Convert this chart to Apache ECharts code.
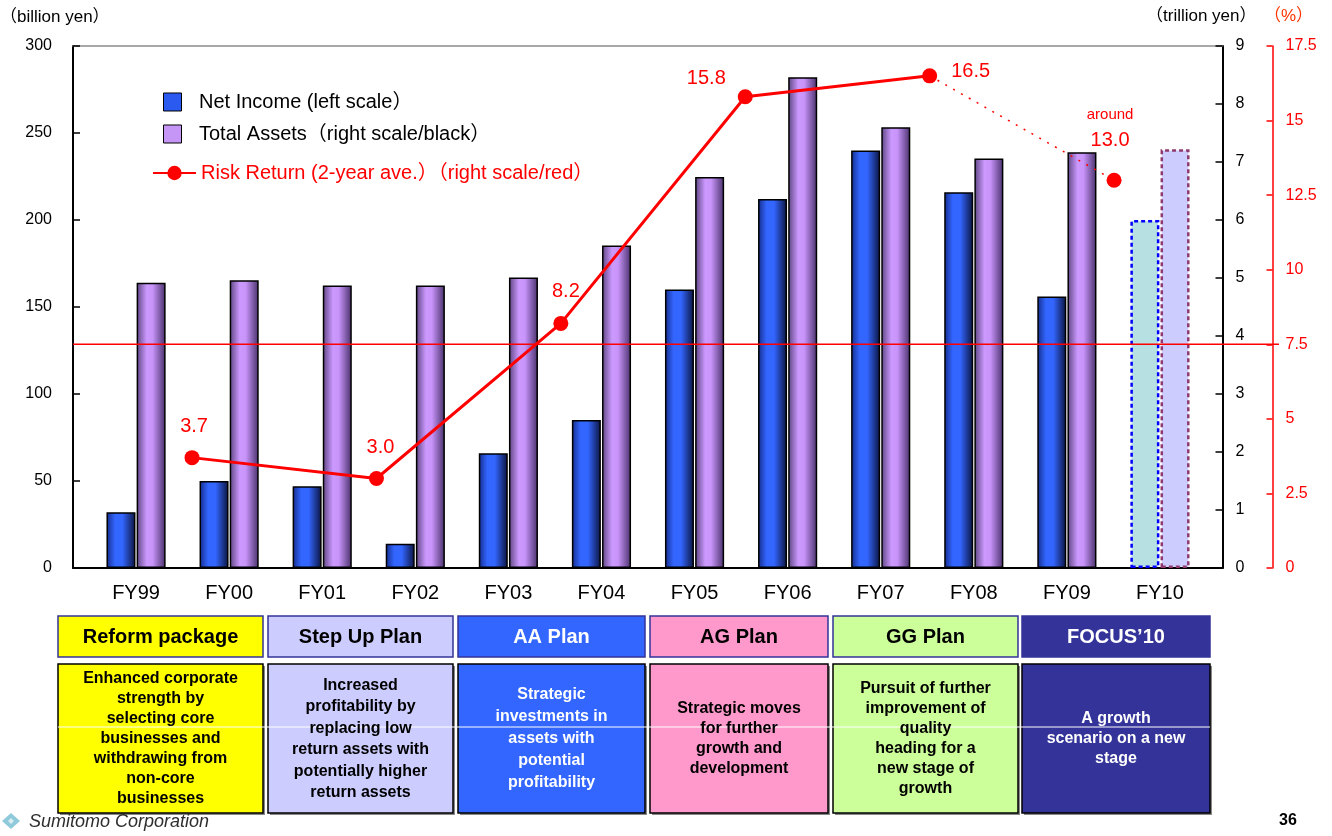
<!DOCTYPE html>
<html>
<head>
<meta charset="UTF-8">
<title>Net Income, Total Assets and Risk Return</title>
<style>
html, body { margin: 0; padding: 0; background: #fff; }
#main { width: 1332px; height: 836px; }
</style>
</head>
<body>
<div id="main"></div>
<script src="https://cdn.jsdelivr.net/npm/echarts@6/dist/echarts.min.js"></script>
<script>
// data
var years = ['FY99', 'FY00', 'FY01', 'FY02', 'FY03', 'FY04', 'FY05', 'FY06', 'FY07', 'FY08', 'FY09', 'FY10'];
var netIncome = [32, 50, 47, 14, 66, 85, 160, 212, 240, 216, 156, 200];          // billion yen
var totalAssets = [4.92, 4.96, 4.87, 4.87, 5.01, 5.56, 6.74, 8.46, 7.60, 7.06, 7.17, 7.22]; // trillion yen
var forecastYears = ['FY10'];
var riskYears = ['FY00', 'FY02', 'FY04', 'FY06', 'FY08', 'FY10'];
var riskReturn = [3.7, 3.0, 8.2, 15.8, 16.5, 13.0];  // %
var riskHurdle = 7.5;
var leftScale = [0, 300, 50];
var rightScale = [0, 9, 1];
var pctScale = [0, 17.5, 2.5];

var planNames = ['Reform package', 'Step Up Plan', 'AA Plan', 'AG Plan', 'GG Plan', 'FOCUS\u201910'];
var planTexts = [
  'Enhanced corporate\nstrength by\nselecting core\nbusinesses and\nwithdrawing from\nnon-core\nbusinesses',
  'Increased\nprofitability by\nreplacing low\nreturn assets with\npotentially higher\nreturn assets',
  'Strategic\ninvestments in\nassets with\npotential\nprofitability',
  'Strategic moves\nfor further\ngrowth and\ndevelopment',
  'Pursuit of further\nimprovement of\nquality\nheading for a\nnew stage of\ngrowth',
  'A growth\nscenario on a new\nstage'
];

// styles
var FONT = '"Liberation Sans", Arial, "Noto Sans CJK JP", sans-serif';
var planFill = ['#ffff00', '#ccccff', '#3366ff', '#ff99cc', '#ccff99', '#333399'];
var planInk = ['#000', '#000', '#fff', '#000', '#000', '#fff'];
var planLineH = [20, 21.5, 22, 20, 20, 20];
var planCols = [[58, 263], [268, 453], [458, 645], [650, 828], [833, 1018], [1022, 1210]];

var nameNI = 'Net Income (left scale\uff09';
var nameTA = 'Total Assets\uff08right scale/black\uff09';
var nameRR = 'Risk Return (2-year ave.\uff09\uff08right scale/red\uff09';

var blueGrad = new echarts.graphic.LinearGradient(0, 0, 1, 0, [
  { offset: 0, color: '#142c8c' }, { offset: 0.3, color: '#3366ff' },
  { offset: 0.55, color: '#3366ff' }, { offset: 1, color: '#0b133d' }]);
var purpleGrad = new echarts.graphic.LinearGradient(0, 0, 1, 0, [
  { offset: 0, color: '#5c4480' }, { offset: 0.35, color: '#cc99ff' },
  { offset: 0.55, color: '#c894fa' }, { offset: 1, color: '#48306a' }]);

var pointLabel = {
  FY00: { position: 'top', distance: 14, offset: [2, 0] },
  FY02: { position: 'top', distance: 14, offset: [4, 0] },
  FY04: { position: 'top', distance: 14, offset: [5, 0] },
  FY06: { position: 'left', distance: 12, offset: [0, -18] },
  FY08: { position: 'right', distance: 14, offset: [0, -4] },
  FY10: { position: 'top', distance: 20, offset: [-4, 0] }
};

function isForecast(y) { return forecastYears.indexOf(y) >= 0; }

var niData = netIncome.map(function (v, i) {
  if (!isForecast(years[i])) return v;
  return { value: v, itemStyle: { color: '#b7e0e2', borderColor: '#0000ff', borderWidth: 2.5, borderType: [4, 3] } };
});
var taData = totalAssets.map(function (v, i) {
  if (!isForecast(years[i])) return v;
  return { value: v, itemStyle: { color: '#ccccff', borderColor: '#8e3a6e', borderWidth: 2.5, borderType: [4, 3] } };
});

function riskPoint(i) {
  var y = riskYears[i];
  var lab = Object.assign({ show: true, color: '#ff0000', fontSize: 20, fontFamily: FONT,
    formatter: function (p) { return p.value[1].toFixed(1); } }, pointLabel[y]);
  return { value: [years.indexOf(y), riskReturn[i]], label: lab };
}
var solidPts = [], dottedPts = [], lastActual = -1;
riskYears.forEach(function (y, i) {
  if (!isForecast(y)) { solidPts.push(riskPoint(i)); lastActual = i; }
});
dottedPts.push({ value: [years.indexOf(riskYears[lastActual]), riskReturn[lastActual]], symbol: 'none', label: { show: false } });
riskYears.forEach(function (y, i) {
  if (!isForecast(y)) return;
  var p = riskPoint(i);
  p.label.formatter = function (q) { return '{a|around}\n{b|' + q.value[1].toFixed(1) + '}'; };
  p.label.rich = {
    a: { fontSize: 15, color: '#ff0000', fontFamily: FONT, lineHeight: 25 },
    b: { fontSize: 20, color: '#ff0000', fontFamily: FONT, lineHeight: 25 }
  };
  dottedPts.push(p);
});

// graphics: units, plan boxes, footer
var graphics = [];
function txt(x, y, s, st) {
  graphics.push({ type: 'text', x: x, y: y, style: Object.assign({ text: s, font: '16px ' + FONT, fill: '#000', textVerticalAlign: 'middle' }, st || {}), z: 20 });
}
txt(0, 17, '\uff08billion yen\uff09', { font: '17px ' + FONT });
txt(1146, 16, '\uff08trillion yen\uff09', { font: '17px ' + FONT });
txt(1264, 16, '\uff08%\uff09', { font: '17px ' + FONT, fill: '#ff3300' });

planCols.forEach(function (c, i) {
  graphics.push({ type: 'rect', shape: { x: c[0], y: 616, width: c[1] - c[0], height: 41 },
    style: { fill: planFill[i], stroke: '#333399', lineWidth: 1.5 }, z: 10 });
  graphics.push({ type: 'text', x: (c[0] + c[1]) / 2, y: 637,
    style: { text: planNames[i], font: 'bold 20px ' + FONT, fill: planInk[i], textAlign: 'center', textVerticalAlign: 'middle' }, z: 12 });
  graphics.push({ type: 'rect', shape: { x: c[0] + 2, y: 666, width: c[1] - c[0], height: 149 },
    style: { fill: '#888' }, z: 9 });
  graphics.push({ type: 'rect', shape: { x: c[0], y: 664, width: c[1] - c[0], height: 149 },
    style: { fill: planFill[i], stroke: '#000', lineWidth: 1.5 }, z: 10 });
  graphics.push({ type: 'text', x: (c[0] + c[1]) / 2, y: 739,
    style: { text: planTexts[i], font: 'bold 16px ' + FONT, fill: planInk[i], textAlign: 'center',
      textVerticalAlign: 'middle', lineHeight: planLineH[i] }, z: 12 });
});
graphics.push({ type: 'line', shape: { x1: 58, y1: 727, x2: 1210, y2: 727 }, style: { stroke: '#fff', lineWidth: 1 }, z: 11 });

// footer
graphics.push({ type: 'polygon', shape: { points: [[11, 813], [20, 821], [11, 829], [2, 821]] },
  style: { fill: '#8fc9da' }, z: 10 });
graphics.push({ type: 'polygon', shape: { points: [[11, 818], [14, 821], [11, 824], [8, 821]] },
  style: { fill: '#d8eef4' }, z: 11 });
txt(29, 822, 'Sumitomo Corporation', { font: 'italic 18px ' + FONT, fill: '#2e2e2e' });
txt(1279, 821, '36', { font: 'bold 16px ' + FONT });

graphics.forEach(function (g, i) { g.id = 'g' + i; });

var axisFont = { fontSize: 16, fontFamily: FONT, color: '#000' };
var squareIcon = 'path://M0,0h10v10h-10z';

var chart = echarts.init(document.getElementById('main'), null, { renderer: 'canvas' });
chart.setOption({
  animation: false,
  backgroundColor: '#fff',
  grid: [
    { left: 89.5, width: 1117, top: 46, height: 522 },
    { left: 73, width: 1149.5, top: 46, height: 522 }
  ],
  legend: [
    { data: [{ name: nameNI, icon: squareIcon, itemStyle: { color: '#2a5af0', borderColor: '#000', borderWidth: 1 } }],
      left: 163, top: 92, padding: 0, itemWidth: 43, itemHeight: 18,
      textStyle: { fontSize: 20, fontFamily: FONT, color: '#000' }, selectedMode: false },
    { data: [{ name: nameTA, icon: squareIcon, itemStyle: { color: '#c596f5', borderColor: '#000', borderWidth: 1 } }],
      left: 163, top: 124, padding: 0, itemWidth: 43, itemHeight: 18,
      textStyle: { fontSize: 20, fontFamily: FONT, color: '#000' }, selectedMode: false },
    { data: [{ name: nameRR }],
      left: 152, top: 163, padding: 0, itemWidth: 43, itemHeight: 18,
      textStyle: { fontSize: 20, fontFamily: FONT, color: '#ff0000' }, selectedMode: false }
  ],
  xAxis: [
    { type: 'category', gridIndex: 0, data: years, axisLine: { show: false }, axisTick: { show: false },
      axisLabel: { fontSize: 20, fontFamily: FONT, color: '#000', margin: 15 } },
    { type: 'value', gridIndex: 1, min: -0.291, max: 12.176,
      axisLine: { show: true, onZero: false, lineStyle: { color: '#000', width: 2 } },
      axisTick: { show: false }, axisLabel: { show: false }, splitLine: { show: false } },
    { type: 'value', gridIndex: 1, position: 'top', min: 0, max: 1,
      axisLine: { show: true, onZero: false, lineStyle: { color: '#8c8c8c', width: 1.5 } },
      axisTick: { show: false }, axisLabel: { show: false }, splitLine: { show: false } }
  ],
  yAxis: [
    { type: 'value', gridIndex: 0, min: leftScale[0], max: leftScale[1], show: false },
    { type: 'value', gridIndex: 0, min: rightScale[0], max: rightScale[1], show: false },
    { type: 'value', gridIndex: 1, position: 'left', min: leftScale[0], max: leftScale[1], interval: leftScale[2],
      axisLine: { show: true, onZero: false, lineStyle: { color: '#000', width: 2 } },
      axisTick: { show: true, inside: true, length: 7, lineStyle: { color: '#000', width: 1.5 } },
      axisLabel: Object.assign({ margin: 21 }, axisFont), splitLine: { show: false } },
    { type: 'value', gridIndex: 1, position: 'right', min: rightScale[0], max: rightScale[1], interval: rightScale[2],
      axisLine: { show: true, onZero: false, lineStyle: { color: '#000', width: 2 } },
      axisTick: { show: true, inside: true, length: 7, lineStyle: { color: '#000', width: 1.5 } },
      axisLabel: Object.assign({ margin: 13 }, axisFont), splitLine: { show: false } },
    { type: 'value', gridIndex: 1, position: 'right', offset: 50, min: pctScale[0], max: pctScale[1], interval: pctScale[2],
      axisLine: { show: true, onZero: false, lineStyle: { color: '#ff0000', width: 1.5 } },
      axisTick: { show: true, inside: true, length: 6, lineStyle: { color: '#ff0000', width: 1.5 } },
      axisLabel: { margin: 13, fontSize: 16, fontFamily: FONT, color: '#ff0000' }, splitLine: { show: false } }
  ],
  series: [
    { name: nameNI, type: 'bar', xAxisIndex: 0, yAxisIndex: 0, data: niData, barWidth: 29, barGap: '4%',
      itemStyle: { color: blueGrad, borderColor: '#000', borderWidth: 1.5 }, z: 2 },
    { name: nameTA, type: 'bar', xAxisIndex: 0, yAxisIndex: 1, data: taData, barWidth: 29, barGap: '4%',
      itemStyle: { color: purpleGrad, borderColor: '#000', borderWidth: 1.5 }, z: 2 },
    { name: nameRR, type: 'line', xAxisIndex: 1, yAxisIndex: 4, data: solidPts,
      symbol: 'circle', symbolSize: 15, itemStyle: { color: '#ff0000' },
      lineStyle: { color: '#ff0000', width: 3 }, z: 5 },
    { name: 'forecast', type: 'line', xAxisIndex: 1, yAxisIndex: 4, data: dottedPts,
      symbol: 'circle', symbolSize: 15, itemStyle: { color: '#ff0000' },
      lineStyle: { color: '#ff0000', width: 1.5, type: [2, 7] }, z: 5 }
  ],
  graphic: graphics
});

// hurdle line at 7.5% on the red scale, running out to the red axis
var yH = chart.convertToPixel({ yAxisIndex: 4 }, riskHurdle);
chart.setOption({
  graphic: [{ id: 'hurdle', type: 'line', shape: { x1: 73, y1: yH, x2: 1279, y2: yH },
    style: { stroke: '#ff0000', lineWidth: 1.5 }, z: 4 }]
});
</script>
</body>
</html>
